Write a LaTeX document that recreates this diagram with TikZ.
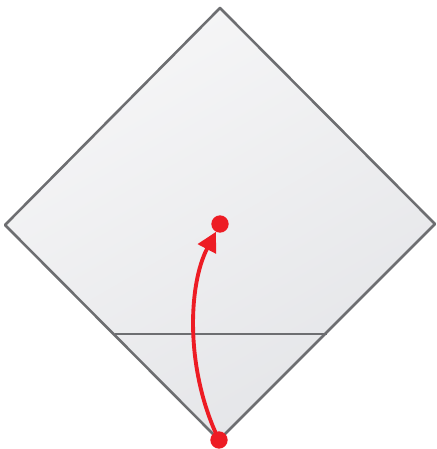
\documentclass[tikz,border=0pt]{standalone}
\usepackage{tikz}
\usetikzlibrary{arrows.meta,calc}
\definecolor{edgegray}{HTML}{6D6E71}
\definecolor{dotred}{HTML}{ED1C24}
\definecolor{filltop}{HTML}{F6F6F7}
\definecolor{fillbot}{HTML}{E4E5E8}
\tikzset{
  every picture/.append style={line cap=round,line join=round},
  cone edge/.style={edgegray,line width=2.2pt},
  cone slice/.style={edgegray,line width=2.2pt},
  event dot/.style={circle,fill=dotred,inner sep=0pt,minimum size=0.52cm},
  worldline/.style={dotred,line width=3.3pt,-{Triangle[length=0.58cm,width=0.6cm]}}
}
\begin{document}
\begin{tikzpicture}[x=0.03cm,y=-0.03cm]
  \useasboundingbox (0,0) rectangle (436,449);
  % diamond corners
  \coordinate (top) at (220,8);
  \coordinate (right) at (435,224);
  \coordinate (bottom) at (219,440);
  \coordinate (left) at (5,225);
  \shade[shading=axis,top color=filltop,bottom color=fillbot,shading angle=30]
    (top) -- (right) -- (bottom) -- (left) -- cycle;
  \draw[cone edge] (top) -- (right) -- (bottom) -- (left) -- cycle;
  % horizontal slice
  \coordinate (sliceL) at (115,334);
  \coordinate (sliceR) at (327,334);
  \draw[cone slice,line cap=butt] (sliceL) -- (sliceR);
  % events
  \node[event dot] (origin) at (219,440) {};
  \node[event dot] (target) at (220,224) {};
  \draw[worldline] (origin.center) .. controls (185,370) and (188,285) .. (target);
\end{tikzpicture}
\end{document}
